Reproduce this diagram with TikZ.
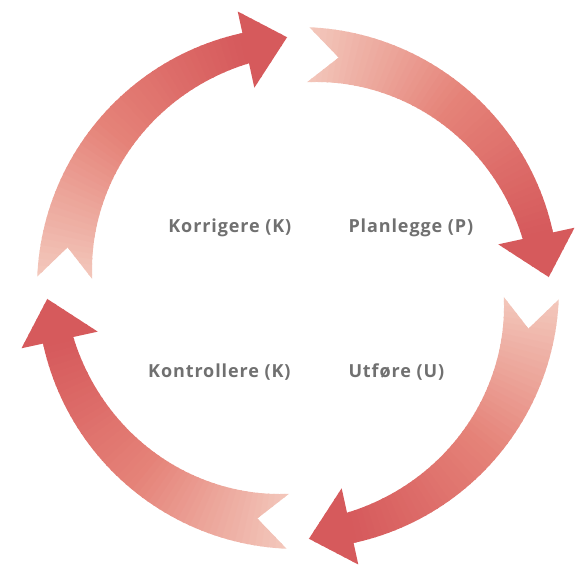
\documentclass[tikz,border=0pt]{standalone}
\usepackage{fontspec}
\setmainfont{Open Sans}
\newfontfamily\lblfont[LetterSpace=5]{Open Sans}
\definecolor{tailc}{RGB}{243,200,188}
\definecolor{midc}{RGB}{229,130,120}
\definecolor{headc}{RGB}{214,90,92}
\definecolor{txt}{RGB}{112,112,112}
\tikzset{lbl/.style={font=\lblfont\bfseries\fontsize{18}{21}\selectfont, text=txt, inner sep=0pt}}
\newcommand\cyclearrow[1]{%
 \begin{scope}[shift={(298,282)}, rotate=#1]
  \begin{scope}
   \clip (177.5:261) arc[start angle=177.5, end angle=102.3, radius=261]
     -- (102.3:283) -- (92.5:251) -- (102.3:205) -- (102.3:230)
     -- plot[domain=102.3:177.5, samples=30, smooth] (\x:{230-24*(\x-102.3)/75.2})
     -- (170:234) -- cycle;
   \foreach \i in {0,...,59} {
     \pgfmathsetmacro\aa{178-1.5*\i}
     \pgfmathsetmacro\ab{\aa-1.8}
     \pgfmathtruncatemacro\p{min(100,max(0,100*(178-\aa)/74))}
     \ifnum\p<50
       \pgfmathtruncatemacro\q{2*\p}\colorlet{cc}{midc!\q!tailc}
     \else
       \pgfmathtruncatemacro\q{2*(\p-50)}\colorlet{cc}{headc!\q!midc}
     \fi
     \fill[cc] (0,0) -- (\aa:300) -- (\ab:300) -- cycle;
   }
  \end{scope}
 \end{scope}}
\begin{document}
\begin{tikzpicture}[x=1pt,y=1pt]
\useasboundingbox (0,0) rectangle (577,570);
\cyclearrow{0}
\cyclearrow{-90}
\cyclearrow{-180}
\cyclearrow{-270}
\node[lbl, anchor=base east] (korr) at (291.5,337.7) {Korrigere (K)};
\node[lbl, anchor=base west] (plan) at (348.3,337.7) {Planlegge (P)};
\node[lbl, anchor=base east] (kont) at (290.7,193) {Kontrollere (K)};
\node[lbl, anchor=base west] (utf) at (348.3,193) {Utføre (U)};
\end{tikzpicture}
\end{document}
